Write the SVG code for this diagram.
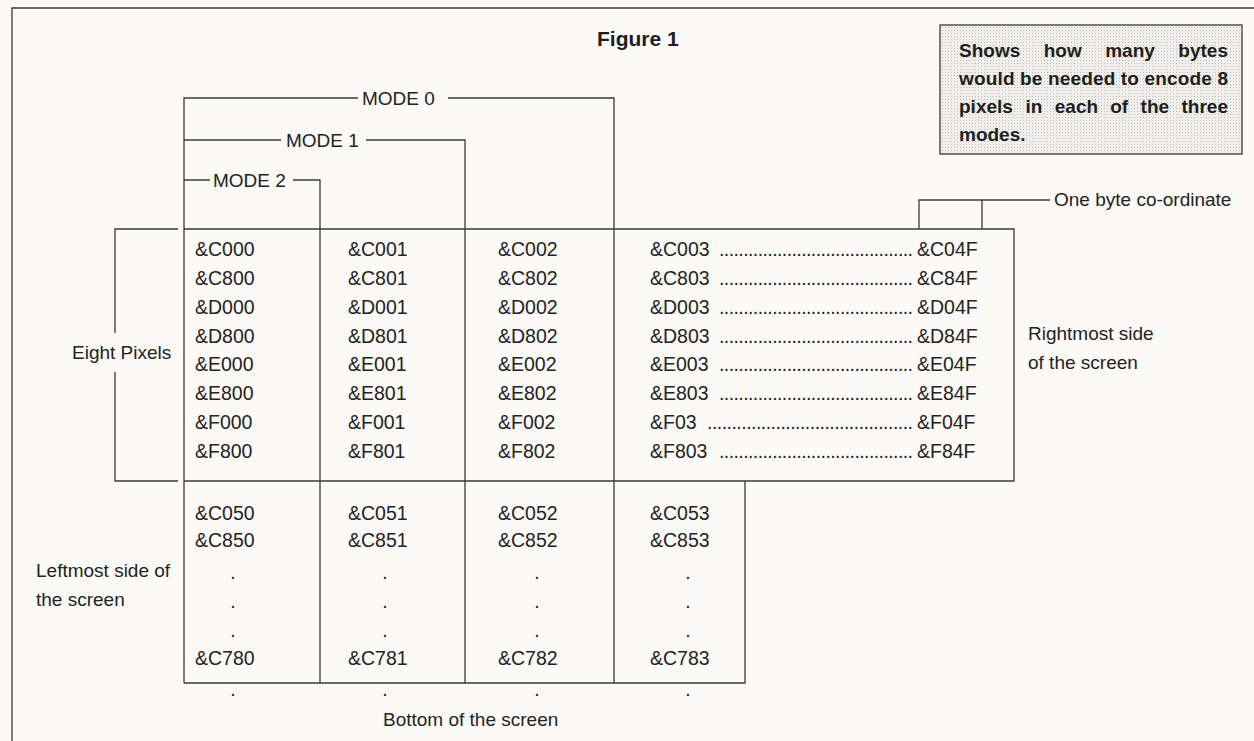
<svg xmlns="http://www.w3.org/2000/svg" width="1254" height="741" viewBox="0 0 1254 741">
<defs>
<pattern id="stip" width="3" height="3" patternUnits="userSpaceOnUse">
<rect width="3" height="3" fill="#f0efeb"/>
<rect x="0" y="0" width="1" height="1" fill="#bdbdb9"/>
</pattern>
<style>
.ln{fill:none;stroke:#3a3a3a;stroke-width:1.3}
.t{font-family:"Liberation Sans",Arial,sans-serif;font-size:19.5px;fill:#232323}
.lb{font-family:"Liberation Sans",Arial,sans-serif;font-size:19px;fill:#232323}
.b{font-family:"Liberation Sans",Arial,sans-serif;font-weight:bold;font-size:19px;fill:#1e1e1e}
.d{text-anchor:middle}
</style>
</defs>
<rect width="1254" height="741" fill="#fbfaf6"/>
<g id="frame"><path class="ln" d="M12,741 V8 H1254"/></g>
<g id="title"><text class="b" x="597" y="46" style="font-size:21px">Figure 1</text></g>
<g id="note">
<rect x="940" y="25" width="302" height="129" fill="url(#stip)" stroke="#3a3a3a" stroke-width="1.3"/>
<text class="b" y="57"><tspan x="959">Shows</tspan><tspan x="1043.7">how</tspan><tspan x="1105.2">many</tspan><tspan x="1228" text-anchor="end">bytes</tspan></text>
<text class="b" x="959" y="85" textLength="269" lengthAdjust="spacing">would be needed to encode 8</text>
<text class="b" y="113"><tspan x="959">pixels</tspan><tspan x="1025.4">in</tspan><tspan x="1054.8">each</tspan><tspan x="1110.2">of</tspan><tspan x="1140.6">the</tspan><tspan x="1228" text-anchor="end">three</tspan></text>
<text class="b" x="959" y="141">modes.</text>
</g>
<g id="connectors">
<path class="ln" d="M184,683 V98 H358 M448,98 H614 V683"/>
<path class="ln" d="M184,140 H281 M366,140 H465 V683"/>
<path class="ln" d="M184,180 H210 M293,180 H320 V683"/>
<path class="ln" d="M184,229 H1014 V481 H184"/>
<path class="ln" d="M184,683 H745 V481"/>
<path class="ln" d="M178,229 H115 V333 M115,372 V481 H178"/>
<path class="ln" d="M919,229 V200 H1050 M982,200 V229"/>
</g>
<g id="mode-labels">
<text class="lb" x="362" y="105">MODE 0</text>
<text class="lb" x="286" y="147">MODE 1</text>
<text class="lb" x="213" y="187">MODE 2</text>
</g>
<g id="labels">
<text class="lb" x="1054" y="206">One byte co-ordinate</text>
<text class="lb" x="72" y="359">Eight Pixels</text>
<text class="lb" x="1028" y="340">Rightmost side</text>
<text class="lb" x="1028" y="369">of the screen</text>
<text class="lb" x="36" y="577">Leftmost side of</text>
<text class="lb" x="36" y="606">the screen</text>
<text class="lb" x="383" y="726">Bottom of the screen</text>
</g>
<g id="col1">
<text class="t" x="195" y="256">&amp;C000</text>
<text class="t" x="195" y="285">&amp;C800</text>
<text class="t" x="195" y="314">&amp;D000</text>
<text class="t" x="195" y="343">&amp;D800</text>
<text class="t" x="195" y="371">&amp;E000</text>
<text class="t" x="195" y="400">&amp;E800</text>
<text class="t" x="195" y="429">&amp;F000</text>
<text class="t" x="195" y="458">&amp;F800</text>
<text class="t" x="195" y="520">&amp;C050</text>
<text class="t" x="195" y="547">&amp;C850</text>
<text class="t d" x="233" y="579">.</text>
<text class="t d" x="233" y="608">.</text>
<text class="t d" x="233" y="637">.</text>
<text class="t" x="195" y="665">&amp;C780</text>
<text class="t d" x="233" y="696">.</text>
</g>
<g id="col2">
<text class="t" x="348" y="256">&amp;C001</text>
<text class="t" x="348" y="285">&amp;C801</text>
<text class="t" x="348" y="314">&amp;D001</text>
<text class="t" x="348" y="343">&amp;D801</text>
<text class="t" x="348" y="371">&amp;E001</text>
<text class="t" x="348" y="400">&amp;E801</text>
<text class="t" x="348" y="429">&amp;F001</text>
<text class="t" x="348" y="458">&amp;F801</text>
<text class="t" x="348" y="520">&amp;C051</text>
<text class="t" x="348" y="547">&amp;C851</text>
<text class="t d" x="385" y="579">.</text>
<text class="t d" x="385" y="608">.</text>
<text class="t d" x="385" y="637">.</text>
<text class="t" x="348" y="665">&amp;C781</text>
<text class="t d" x="385" y="696">.</text>
</g>
<g id="col3">
<text class="t" x="498" y="256">&amp;C002</text>
<text class="t" x="498" y="285">&amp;C802</text>
<text class="t" x="498" y="314">&amp;D002</text>
<text class="t" x="498" y="343">&amp;D802</text>
<text class="t" x="498" y="371">&amp;E002</text>
<text class="t" x="498" y="400">&amp;E802</text>
<text class="t" x="498" y="429">&amp;F002</text>
<text class="t" x="498" y="458">&amp;F802</text>
<text class="t" x="498" y="520">&amp;C052</text>
<text class="t" x="498" y="547">&amp;C852</text>
<text class="t d" x="537" y="579">.</text>
<text class="t d" x="537" y="608">.</text>
<text class="t d" x="537" y="637">.</text>
<text class="t" x="498" y="665">&amp;C782</text>
<text class="t d" x="537" y="696">.</text>
</g>
<g id="col4">
<text class="t" x="650" y="256">&amp;C003</text>
<text class="t" x="719" y="256" textLength="194" lengthAdjust="spacing">........................................</text>
<text class="t" x="917" y="256">&amp;C04F</text>
<text class="t" x="650" y="285">&amp;C803</text>
<text class="t" x="719" y="285" textLength="194" lengthAdjust="spacing">........................................</text>
<text class="t" x="917" y="285">&amp;C84F</text>
<text class="t" x="650" y="314">&amp;D003</text>
<text class="t" x="719" y="314" textLength="194" lengthAdjust="spacing">........................................</text>
<text class="t" x="917" y="314">&amp;D04F</text>
<text class="t" x="650" y="343">&amp;D803</text>
<text class="t" x="719" y="343" textLength="194" lengthAdjust="spacing">........................................</text>
<text class="t" x="917" y="343">&amp;D84F</text>
<text class="t" x="650" y="371">&amp;E003</text>
<text class="t" x="719" y="371" textLength="194" lengthAdjust="spacing">........................................</text>
<text class="t" x="917" y="371">&amp;E04F</text>
<text class="t" x="650" y="400">&amp;E803</text>
<text class="t" x="719" y="400" textLength="194" lengthAdjust="spacing">........................................</text>
<text class="t" x="917" y="400">&amp;E84F</text>
<text class="t" x="650" y="429">&amp;F03</text>
<text class="t" x="707" y="429" textLength="206" lengthAdjust="spacing">..........................................</text>
<text class="t" x="917" y="429">&amp;F04F</text>
<text class="t" x="650" y="458">&amp;F803</text>
<text class="t" x="719" y="458" textLength="194" lengthAdjust="spacing">........................................</text>
<text class="t" x="917" y="458">&amp;F84F</text>
<text class="t" x="650" y="520">&amp;C053</text>
<text class="t" x="650" y="547">&amp;C853</text>
<text class="t d" x="688" y="579">.</text>
<text class="t d" x="688" y="608">.</text>
<text class="t d" x="688" y="637">.</text>
<text class="t" x="650" y="665">&amp;C783</text>
<text class="t d" x="688" y="696">.</text>
</g>
</svg>
